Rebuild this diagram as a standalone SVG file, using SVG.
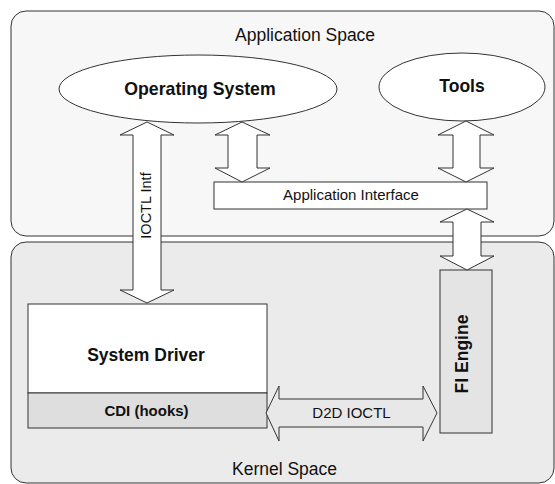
<svg xmlns="http://www.w3.org/2000/svg" width="555" height="484" viewBox="0 0 555 484">
<style>
.ln{stroke:#333;stroke-width:1}
.t{font-family:"Liberation Sans",Arial,sans-serif;fill:#111}
.b{font-weight:bold}
.arw{fill:#fff;stroke:#333;stroke-width:1}
</style>
<rect width="555" height="484" fill="#fff"/>
<g id="app-space">
<rect class="ln" x="11" y="11" width="543" height="225" rx="15" fill="#f7f7f7"/>
<text class="t" x="235" y="41" font-size="17.5">Application Space</text>
</g>
<g id="kernel-space">
<rect class="ln" x="11" y="242" width="543" height="241" rx="15" fill="#ebebeb"/>
<text class="t" x="232" y="475" font-size="17.5">Kernel Space</text>
</g>
<g id="os">
<ellipse class="ln" cx="198" cy="89" rx="139" ry="34" fill="#fff"/>
<text class="t b" x="200" y="95" font-size="17.7" text-anchor="middle">Operating System</text>
</g>
<g id="tools">
<ellipse class="ln" cx="462" cy="87" rx="83" ry="34" fill="#fff"/>
<text class="t b" x="462" y="92" font-size="17.5" text-anchor="middle">Tools</text>
</g>
<g id="app-interface">
<rect class="ln" x="214" y="182" width="273" height="27" fill="#fff"/>
<text class="t" x="351" y="200" font-size="15" text-anchor="middle">Application Interface</text>
</g>
<g id="system-driver">
<rect class="ln" x="28" y="304" width="239" height="89" fill="#fff"/>
<text class="t b" x="146" y="361" font-size="17.5" text-anchor="middle">System Driver</text>
</g>
<g id="cdi">
<rect class="ln" x="28" y="393" width="239" height="35" fill="#dedede"/>
<text class="t b" x="146.5" y="416" font-size="15" text-anchor="middle">CDI (hooks)</text>
</g>
<g id="fi-engine">
<rect class="ln" x="440" y="270" width="52" height="163" fill="#e4e4e4"/>
<text class="t b" x="0" y="0" font-size="17.5" text-anchor="middle" transform="translate(468,354) rotate(-90)">FI Engine</text>
</g>
<g id="connectors">
<polygon class="arw" points="147,122 174,135 161,135 161,290 174,290 147,303 120,290 133,290 133,135 120,135"/>
<text class="t" x="0" y="0" font-size="14.5" text-anchor="middle" transform="translate(151,205.5) rotate(-90)">IOCTL Intf</text>
<polygon class="arw" points="242,122 270,135 257,135 257,168 270,168 242,182 215,168 228,168 228,135 215,135"/>
<polygon class="arw" points="466,121 494,135 480,135 480,168 494,168 466,182 438,168 453,168 453,135 438,135"/>
<polygon class="arw" points="467,209 494,222 481,222 481,256 494,256 467,270 440,256 453,256 453,222 440,222"/>
<polygon class="arw" style="fill:#e8e8e8" points="266,413 279,386 279,399 423,399 423,386 437,413 423,441 423,427 279,427 279,441"/>
<text class="t" x="351.5" y="418" font-size="15" text-anchor="middle">D2D IOCTL</text>
</g>
</svg>
